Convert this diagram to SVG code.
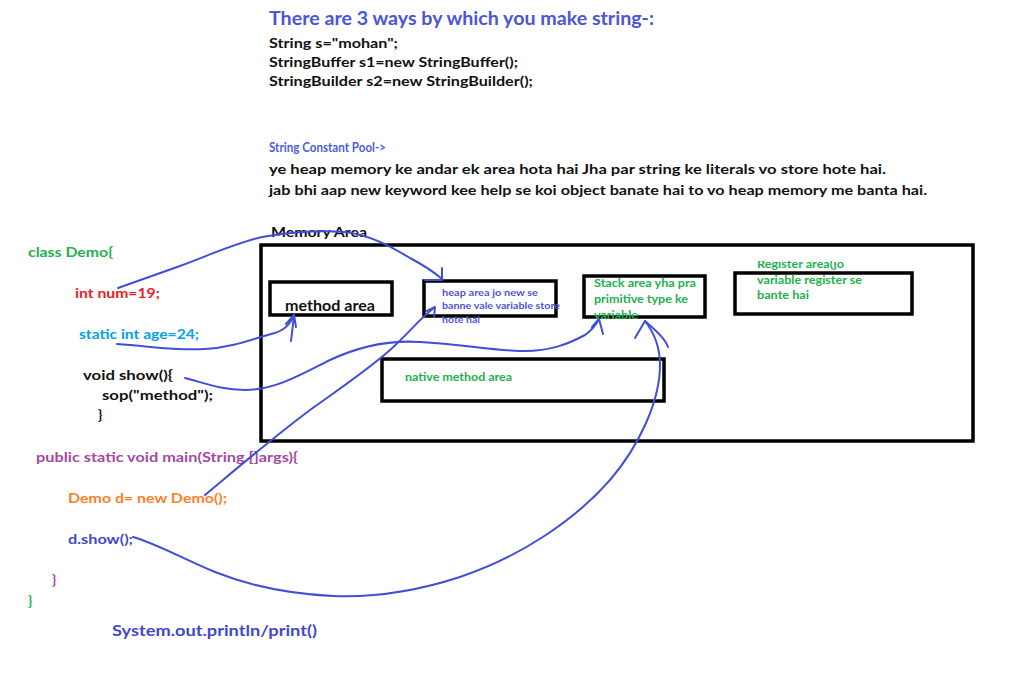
<svg xmlns="http://www.w3.org/2000/svg" width="1011" height="676" viewBox="0 0 1011 676">
<style>
text{font-family:Lato,"Open Sans","Liberation Sans",sans-serif;font-weight:bold;}
.b{fill:#111;font-size:14px;}
.box{fill:none;stroke:#000;stroke-width:3.5;}
.g{fill:#22b14c;}
.w{fill:none;stroke:#3f4fd6;stroke-width:2;stroke-linecap:round;stroke-linejoin:round;}
</style>
<defs>
<clipPath id="regclip"><rect x="700" y="261" width="250" height="60"/></clipPath>
</defs>
<rect width="1011" height="676" fill="#fff"/>

<g id="header">
<text x="269" y="25" font-size="18" fill="#4a55d8" textLength="385" lengthAdjust="spacingAndGlyphs">There are 3 ways by which you make string-:</text>
<text class="b" x="269" y="48" textLength="129" lengthAdjust="spacingAndGlyphs">String s="mohan";</text>
<text class="b" x="269" y="67" textLength="249" lengthAdjust="spacingAndGlyphs">StringBuffer s1=new StringBuffer();</text>
<text class="b" x="269" y="86" textLength="264" lengthAdjust="spacingAndGlyphs">StringBuilder s2=new StringBuilder();</text>
</g>

<g id="pool">
<text x="269" y="152" font-size="14" fill="#4a5fd8" textLength="117" lengthAdjust="spacingAndGlyphs">String Constant Pool-&gt;</text>
<text class="b" x="269" y="174" textLength="617" lengthAdjust="spacingAndGlyphs">ye heap memory ke andar ek area hota hai Jha par string ke literals vo store hote hai.</text>
<text class="b" x="269" y="195" textLength="658" lengthAdjust="spacingAndGlyphs">jab bhi aap new keyword kee help se koi object banate hai to vo heap memory me banta hai.</text>
</g>

<g id="code">
<text x="28" y="257" font-size="14" class="g" textLength="85" lengthAdjust="spacingAndGlyphs">class Demo{</text>
<text x="75" y="298" font-size="14" fill="#ed1c24" textLength="85" lengthAdjust="spacingAndGlyphs">int num=19;</text>
<text x="79" y="339" font-size="14" fill="#00a2e8" textLength="120" lengthAdjust="spacingAndGlyphs">static int age=24;</text>
<text class="b" x="83" y="380" textLength="90" lengthAdjust="spacingAndGlyphs">void show(){</text>
<text class="b" x="102" y="400" textLength="111" lengthAdjust="spacingAndGlyphs">sop("method");</text>
<text class="b" x="98" y="420">}</text>
<text x="36" y="462" font-size="14" fill="#a349a4" textLength="262" lengthAdjust="spacingAndGlyphs">public static void main(String []args){</text>
<text x="68" y="503" font-size="14" fill="#ff7f27" textLength="159" lengthAdjust="spacingAndGlyphs">Demo d= new Demo();</text>
<text x="68" y="544" font-size="14" fill="#3f48cc" textLength="65" lengthAdjust="spacingAndGlyphs">d.show();</text>
<text x="52" y="585" font-size="14" fill="#a349a4">}</text>
<text x="28" y="606" font-size="14" class="g">}</text>
<text x="112" y="636" font-size="16" fill="#3f48cc" textLength="205" lengthAdjust="spacingAndGlyphs">System.out.println/print()</text>
</g>

<g id="memory-area">
<text class="b" x="271" y="237" textLength="96" lengthAdjust="spacingAndGlyphs">Memory Area</text>
<rect class="box" x="261" y="245" width="712" height="196"/>
</g>

<g id="method-area">
<rect class="box" x="270" y="282" width="122" height="33"/>
<text x="285" y="311" font-size="16" fill="#111" textLength="90" lengthAdjust="spacingAndGlyphs">method area</text>
</g>

<g id="heap-area">
<rect class="box" x="424" y="281" width="132" height="35"/>
<text x="442" y="296" font-size="10" fill="#4f55d8" textLength="96" lengthAdjust="spacingAndGlyphs">heap area jo new se</text>
<text x="442" y="309" font-size="10" fill="#4f55d8" textLength="118" lengthAdjust="spacingAndGlyphs">banne vale variable store</text>
<text x="442" y="323" font-size="10" fill="#4f55d8" textLength="38" lengthAdjust="spacingAndGlyphs">hote hai</text>
</g>

<g id="stack-area">
<rect class="box" x="584" y="276" width="121" height="41"/>
<text x="594" y="287" font-size="12" class="g" textLength="102" lengthAdjust="spacingAndGlyphs">Stack area yha pra</text>
<text x="594" y="303" font-size="12" class="g" textLength="94" lengthAdjust="spacingAndGlyphs">primitive type ke</text>
<text x="594" y="319" font-size="12" class="g" textLength="44" lengthAdjust="spacingAndGlyphs">variable</text>
</g>

<g id="register-area">
<rect class="box" x="735" y="273" width="177" height="41"/>
<g clip-path="url(#regclip)">
<text x="757" y="268" font-size="12" class="g" textLength="87" lengthAdjust="spacingAndGlyphs">Register area(jo</text>
</g>
<text x="757" y="284" font-size="12" class="g" textLength="105" lengthAdjust="spacingAndGlyphs">variable register se</text>
<text x="757" y="299" font-size="12" class="g" textLength="52" lengthAdjust="spacingAndGlyphs">bante hai</text>
</g>

<g id="native-method-area">
<rect class="box" x="382" y="359" width="282" height="42"/>
<text x="405" y="381" font-size="12" class="g" textLength="107" lengthAdjust="spacingAndGlyphs">native method area</text>
</g>

<g id="connectors">
<path class="w" d="M118,288 L180,266 C210,255 235,243 262,237 C290,232 320,230 345,232 C370,235 390,246 410,258 C425,266 434,272 442,279"/>
<path class="w" d="M425,280 L442,280 L442,268"/>
<path class="w" d="M117,344 C150,346 175,351 205,349 C235,347 255,338 275,333 C287,329 291,322 294,315"/>
<path class="w" d="M286,324 L294,315 L296,327 M291,341 L294,316"/>
<path class="w" d="M185,378 C205,383 220,390 245,390 C275,390 300,375 330,360 C360,346 390,340 420,342 C460,344 490,350 520,351 C550,352 570,343 585,335 C592,330 596,325 599,319"/>
<path class="w" d="M592,327 L599,319 L603,334"/>
<path class="w" d="M205,495 C235,470 270,440 310,410 C345,385 370,368 390,350 C410,332 420,318 434,308"/>
<path class="w" d="M427,311 L435,307 L434,317"/>
<path class="w" d="M133,537 C160,545 185,560 215,572 C250,586 290,594 333,596 C380,598 420,590 460,577 C520,557 575,520 610,480 C640,445 660,400 660,365 C660,345 652,330 645,321"/>
<path class="w" d="M635,338 L645,321 C655,330 665,338 668,347"/>
</g>
</svg>
